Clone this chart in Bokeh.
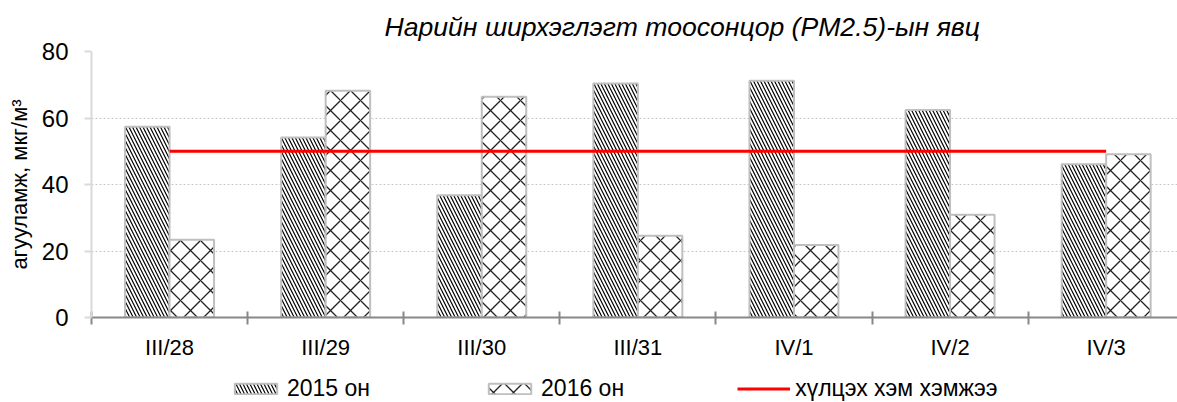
from bokeh.plotting import figure
from bokeh.models import (Range1d, FixedTicker, ColumnDataSource, Legend, LegendItem, Title)
from bokeh.layouts import column
from bokeh.transform import dodge
from bokeh.embed import file_html
from bokeh.resources import INLINE

categories = ["III/28", "III/29", "III/30", "III/31", "IV/1", "IV/2", "IV/3"]
pm25_2015 = [57.4, 54.1, 36.8, 70.4, 71.2, 62.4, 46.1]
pm25_2016 = [23.4, 68.2, 66.4, 24.6, 21.8, 30.9, 49.1]
limit = [50, 50, 50, 50, 50, 50, 50]
series_names = ["2015 он", "2016 он", "хүлцэх хэм хэмжээ"]
title_text = "Нарийн ширхэглэгт тоосонцор (PM2.5)-ын явц"
y_label = "агууламж, мкг/м³"
y_ticks = [0, 20, 40, 60, 80]

FONT = "Liberation Sans"
centers = [i + 0.5 for i in range(len(categories))]
src = ColumnDataSource(dict(x=centers, a=pm25_2015, b=pm25_2016, lim=limit))

W = 1177
p = figure(width=W, height=368, output_backend="svg", toolbar_location=None,
           x_range=Range1d(0, 6.957), y_range=Range1d(0, 80),
           min_border_left=91, min_border_right=0, min_border_top=51, min_border_bottom=51)
p.outline_line_color = None
p.background_fill_color = "white"
p.border_fill_color = "white"

p.title = Title(text=title_text, text_font=FONT, text_font_size="26.6px",
                text_font_style="italic", text_color="black", align="left",
                vertical_align="top", offset=293, standoff=16)

w = 0.285
bar15 = dict(fill_color="white", line_color="#bfbfbf", line_width=2,
             hatch_pattern="\\", hatch_scale=7, hatch_weight=1.2, hatch_color="black")
bar16 = dict(fill_color="white", line_color="#bfbfbf", line_width=2,
             hatch_pattern="x", hatch_scale=20, hatch_weight=1.3, hatch_color="#222222")
lim_style = dict(line_color="#ff0000", line_width=3)

p.vbar(x=dodge("x", -w / 2, range=p.x_range), top="a", width=w, bottom=0, source=src, **bar15)
p.vbar(x=dodge("x", w / 2, range=p.x_range), top="b", width=w, bottom=0, source=src, **bar16)
p.line(x="x", y="lim", source=src, **lim_style)

# grid
p.xgrid.grid_line_color = None
p.ygrid.ticker = FixedTicker(ticks=[20, 40, 60, 80])
p.ygrid.grid_line_color = "#c8c8c8"
p.ygrid.grid_line_dash = "2 2"
p.ygrid.grid_line_width = 1

# y axis
ya = p.yaxis[0]
ya.ticker = FixedTicker(ticks=y_ticks)
ya.axis_line_color = "#d9d9d9"
ya.axis_line_width = 2
ya.major_tick_line_color = "#d9d9d9"
ya.major_tick_line_width = 2
ya.major_tick_out = 7
ya.major_tick_in = 0
ya.minor_tick_line_color = None
ya.major_label_text_font = FONT
ya.major_label_text_font_size = "24px"
ya.major_label_text_color = "black"
ya.major_label_standoff = 16
ya.axis_label = y_label
ya.axis_label_text_font = FONT
ya.axis_label_text_font_size = "22px"
ya.axis_label_text_font_style = "normal"
ya.axis_label_text_color = "black"
ya.axis_label_standoff = 7

# x axis
xa = p.xaxis[0]
xa.ticker = FixedTicker(ticks=centers, minor_ticks=list(range(len(categories) + 1)))
xa.major_label_overrides = {c: lab for c, lab in zip(centers, categories)}
xa.axis_line_color = "#888888"
xa.axis_line_width = 2
xa.major_tick_line_color = None
xa.major_tick_out = 0
xa.major_tick_in = 0
xa.minor_tick_line_color = "#888888"
xa.minor_tick_line_width = 2
xa.minor_tick_in = 6
xa.minor_tick_out = 7
xa.major_label_text_font = FONT
xa.major_label_text_font_size = "22px"
xa.major_label_text_color = "black"
xa.major_label_standoff = 10

# legend strip: hidden copies of the series renderers, only their legend shows
p2 = figure(width=W, height=34, output_backend="svg", toolbar_location=None,
            x_range=p.x_range, y_range=Range1d(0, 80),
            x_axis_location=None, y_axis_location=None,
            min_border_left=0, min_border_right=0, min_border_top=0, min_border_bottom=0)
p2.outline_line_color = None
p2.xgrid.grid_line_color = None
p2.ygrid.grid_line_color = None
l1 = p2.vbar(x=dodge("x", -w / 2, range=p2.x_range), top="a", width=w, bottom=0, source=src, **bar15)
l2 = p2.vbar(x=dodge("x", w / 2, range=p2.x_range), top="b", width=w, bottom=0, source=src, **bar16)
l3 = p2.line(x="x", y="lim", source=src, **lim_style)
for r in (l1, l2, l3):
    r.visible = False

legend = Legend(items=[LegendItem(label=series_names[0], renderers=[l1]),
                       LegendItem(label=series_names[1], renderers=[l2]),
                       LegendItem(label=series_names[2], renderers=[l3])],
                orientation="horizontal", location=(138, 0),
                glyph_width=53, glyph_height=13, label_standoff=5, spacing=113,
                label_text_font=FONT, label_text_font_size="23px", label_text_color="black",
                border_line_color=None, background_fill_alpha=0, padding=0, margin=0,
                label_height=20, inactive_fill_alpha=0)
p2.add_layout(legend, "center")

layout = column(p, p2, spacing=0)
open("out.html", "w").write(file_html(layout, INLINE))
